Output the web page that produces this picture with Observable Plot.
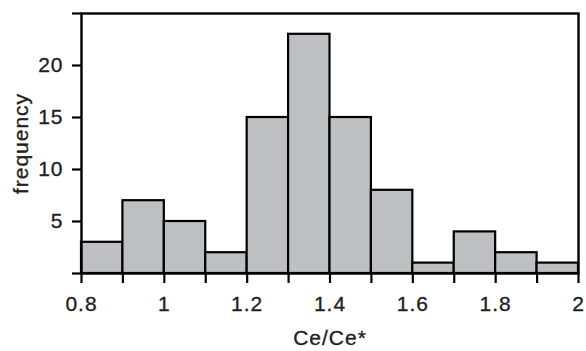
<!DOCTYPE html>
<html>
<head>
<meta charset="utf-8">
<script src="https://cdn.jsdelivr.net/npm/d3@7"></script>
<script src="https://cdn.jsdelivr.net/npm/@observablehq/plot@0.6"></script>
<style>
  html, body { margin: 0; padding: 0; background: #fff; }
  #chart svg text { stroke: #231f20; stroke-width: 0.35px; }
</style>
</head>
<body>
<div id="chart"></div>
<script>
// Histogram bins (left/right edges) and counts
const binLeft  = [0.8, 0.9, 1.0, 1.1, 1.2, 1.3, 1.4, 1.5, 1.6, 1.7, 1.8, 1.9];
const binRight = [0.9, 1.0, 1.1, 1.2, 1.3, 1.4, 1.5, 1.6, 1.7, 1.8, 1.9, 2.0];
const counts   = [3, 7, 5, 2, 15, 23, 15, 8, 1, 4, 2, 1];

// Ticks
const xTicks = [0.8, 0.9, 1.0, 1.1, 1.2, 1.3, 1.4, 1.5, 1.6, 1.7, 1.8, 1.9, 2.0];
const xTickLabels = ["0.8", "", "1", "", "1.2", "", "1.4", "", "1.6", "", "1.8", "", "2"];
const yTicks = [0, 5, 10, 15, 20, 25];
const yTickLabels = ["", "5", "10", "15", "20", ""];

const data = binLeft.map((x1, i) => ({x1, x2: binRight[i], count: counts[i]}));

const font = "'Liberation Sans', Arial, Helvetica, sans-serif";

const chart = Plot.plot({
  width: 586,
  height: 351,
  marginLeft: 81,
  marginRight: 8,
  marginTop: 13,
  marginBottom: 78,
  style: {fontFamily: font, fontSize: "21px", color: "#231f20", background: "#fff", letterSpacing: "1px"},
  x: {domain: [0.8, 2.0]},
  y: {domain: [0, 25]},
  marks: [
    Plot.rectY(data, {x1: "x1", x2: "x2", y: "count", fill: "#bebfc1", stroke: "#000", strokeWidth: 2.2, inset: 0}),
    Plot.frame({stroke: "#000", strokeWidth: 2.4}),
    Plot.axisX({
      ticks: xTicks,
      tickFormat: (d, i) => xTickLabels[i],
      tickSize: 10,
      tickPadding: 13,
      strokeWidth: 2.2,
      stroke: "#000",
      label: "Ce/Ce*",
      labelAnchor: "center",
      labelArrow: "none",
      labelOffset: 71
    }),
    Plot.axisY({
      ticks: yTicks,
      tickFormat: (d, i) => yTickLabels[i],
      tickSize: 9,
      tickPadding: 9,
      strokeWidth: 2.2,
      stroke: "#000",
      label: "frequency",
      labelAnchor: "center",
      labelArrow: "none",
      labelOffset: 68
    })
  ]
});
document.getElementById("chart").appendChild(chart);
</script>
</body>
</html>
